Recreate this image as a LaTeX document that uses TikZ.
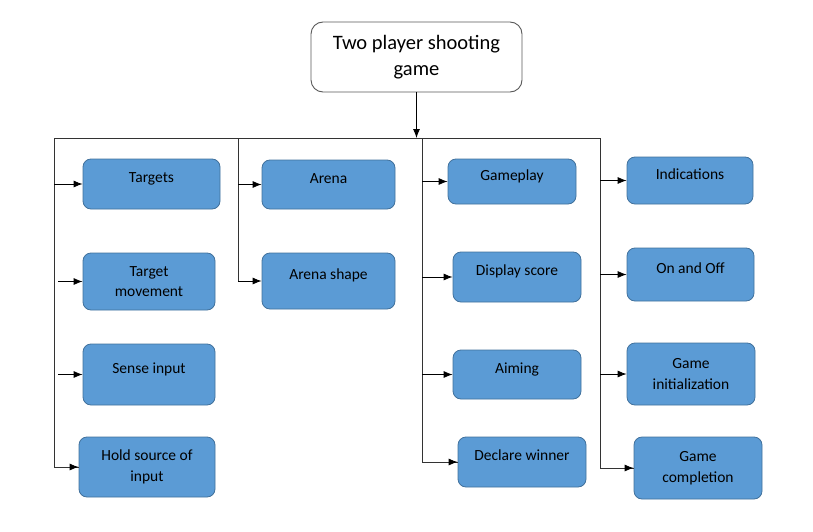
\documentclass[tikz,border=0pt]{standalone}
\usepackage{fontspec}
\setmainfont{Carlito}
\usetikzlibrary{arrows.meta,positioning}
\definecolor{boxblue}{HTML}{5B9BD5}
\definecolor{boxedge}{HTML}{41719C}
\definecolor{titleedge}{HTML}{595959}

\begin{document}
\begin{tikzpicture}[
    x=1pt, y=-1pt,
    top/.style={draw=titleedge, line width=0.9pt, rounded corners=12pt, fill=white, minimum width=211pt, minimum height=70pt, align=center, font=\fontsize{20.5}{26}\selectfont},
    task/.style={draw=boxedge, line width=0.8pt, rounded corners=8pt, fill=boxblue, align=center, font=\fontsize{15.5}{20.5}\selectfont, inner sep=2pt},
    onerow/.style={text height=10pt, text depth=13pt},
    arrow/.style={-{Latex[length=9pt,width=7pt]}, line width=0.8pt, black},
    bus/.style={line width=0.8pt, black!80}
]
\useasboundingbox (0,0) rectangle (813,532);

\node[top] (title) at (416.5,57) {Two player shooting\\game};

% first column
\node[task, onerow, minimum width=137pt, minimum height=50pt] (targets) at (151.5,184) {Targets};
\node[task, minimum width=132pt, minimum height=57pt] (tmove) at (149,281.5) {Target\\movement};
\node[task, onerow, minimum width=132pt, minimum height=61pt] (sense) at (149,374.5) {Sense input};
\node[task, minimum width=136pt, minimum height=60pt] (hold) at (147,467) {Hold source of\\input};

% second column
\node[task, onerow, minimum width=133pt, minimum height=49pt] (arena) at (328.5,184.5) {Arena};
\node[task, onerow, minimum width=133pt, minimum height=56pt] (ashape) at (328.5,281) {Arena shape};

% third column
\node[task, onerow, minimum width=128pt, minimum height=45pt] (gameplay) at (512,181.5) {Gameplay};
\node[task, onerow, minimum width=128pt, minimum height=50pt] (score) at (517,277) {Display score};
\node[task, onerow, minimum width=128pt, minimum height=49pt] (aiming) at (517,374.5) {Aiming};
\node[task, onerow, minimum width=128pt, minimum height=50pt] (winner) at (522,462) {Declare winner};

% fourth column
\node[task, onerow, minimum width=126pt, minimum height=47pt] (indic) at (690,180.5) {Indications};
\node[task, onerow, minimum width=127pt, minimum height=53pt] (onoff) at (690.5,274.5) {On and Off};
\node[task, minimum width=128pt, minimum height=62pt] (init) at (691,374) {Game\\initialization};
\node[task, minimum width=128pt, minimum height=62pt] (compl) at (698,468) {Game\\completion};

\coordinate (busL) at (54,138);
\coordinate (colB) at (238,138);
\coordinate (colC) at (422,138);
\coordinate (busR) at (600,138);

\draw[arrow] (title.south) -- (title.south |- busL);
\draw[bus] (busL) -- (busR);

\draw[bus] (busL) |- (hold.west);
\draw[arrow] ([xshift=-4pt]hold.west) -- (hold.west);
\draw[arrow] (busL |- targets.west) -- (targets.west);
\draw[arrow] ([xshift=4pt]busL |- tmove.west) -- (tmove.west);
\draw[arrow] ([xshift=4pt]busL |- sense.west) -- (sense.west);

\draw[bus] (colB) -- (colB |- ashape.west);
\draw[arrow] (colB |- arena.west) -- (arena.west);
\draw[arrow] (colB |- ashape.west) -- (ashape.west);

\draw[bus] (colC) |- (winner.west);
\draw[arrow] ([xshift=-4pt]winner.west) -- (winner.west);
\draw[arrow] (colC |- gameplay.west) -- (gameplay.west);
\draw[arrow] (colC |- score.west) -- (score.west);
\draw[arrow] (colC |- aiming.west) -- (aiming.west);

\draw[bus] (busR) |- (compl.west);
\draw[arrow] ([xshift=-4pt]compl.west) -- (compl.west);
\draw[arrow] (busR |- indic.west) -- (indic.west);
\draw[arrow] (busR |- onoff.west) -- (onoff.west);
\draw[arrow] (busR |- init.west) -- (init.west);
\end{tikzpicture}
\end{document}
